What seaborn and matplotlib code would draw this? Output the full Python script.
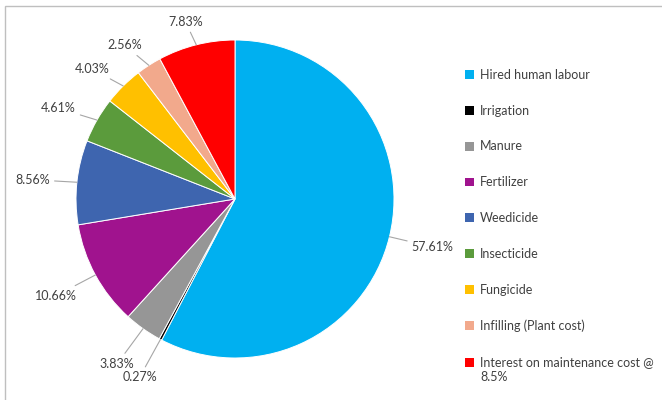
import numpy as np
import matplotlib.pyplot as plt
import matplotlib.patches as mpatches
import seaborn as sns

# Cost components (share of total maintenance cost, %)
categories = [
    'Hired human labour', 'Irrigation', 'Manure', 'Fertilizer', 'Weedicide',
    'Insecticide', 'Fungicide', 'Infilling (Plant cost)',
    'Interest on maintenance cost @\n8.5%',
]
shares = [57.61, 0.27, 3.83, 10.66, 8.56, 4.61, 4.03, 2.56, 7.83]
colors = ['#00B0F0', '#000000', '#969696', '#A0138E', '#3E65AF',
          '#5B9B3C', '#FFC000', '#F2A98C', '#FF0000']

sns.set_style('white')
plt.rcParams['font.family'] = ['Lato', 'DejaVu Sans']

fig = plt.figure(figsize=(6.62, 4.0), dpi=100)

# frame of the chart area (only top/left visible in the reference)
fig.patches.append(mpatches.Rectangle(
    (5 / 662, -0.05), 1.0, 1 - 6 / 400 + 0.05, transform=fig.transFigure,
    fill=False, edgecolor='#BFBFBF', linewidth=1.0))

ax = fig.add_axes([76 / 662, 42 / 400, 318 / 662, 318 / 400])
wedges, _ = ax.pie(shares, colors=colors, startangle=90, counterclock=False,
                   wedgeprops=dict(edgecolor='white', linewidth=0.7))
ax.set_xlim(-1, 1)
ax.set_ylim(-1, 1)
ax.set_aspect('equal')
ax.axis('off')

# data labels with leader lines
for w, v in zip(wedges, shares):
    ang = np.deg2rad((w.theta1 + w.theta2) / 2)
    x, y = np.cos(ang), np.sin(ang)
    fy = 1.15 if y > 0 else 1.27
    ax.annotate(f'{v:.2f}%', xy=(x, y), xytext=(1.28 * x, fy * y),
                ha='center', va='center', fontsize=9, color='#404040',
                annotation_clip=False,
                arrowprops=dict(arrowstyle='-', color='#A6A6A6', lw=0.8,
                                shrinkA=1, shrinkB=0))

handles = [mpatches.Patch(facecolor=c, edgecolor='none') for c in colors]
leg = fig.legend(handles, categories, loc='upper left',
                 bbox_to_anchor=(460 / 662, 1 - 64 / 400), frameon=False,
                 fontsize=9, labelcolor='#404040', handlelength=0.7,
                 handleheight=0.7, handletextpad=0.5, labelspacing=1.9,
                 borderaxespad=0)
for t in leg.get_texts():
    t.set_linespacing(1.35)
# keep the last square level with the first line of its wrapped label
last = leg.legend_handles[-1]
last.set_y(last.get_y() + 5.5)

fig.savefig('out.png', dpi=100)
